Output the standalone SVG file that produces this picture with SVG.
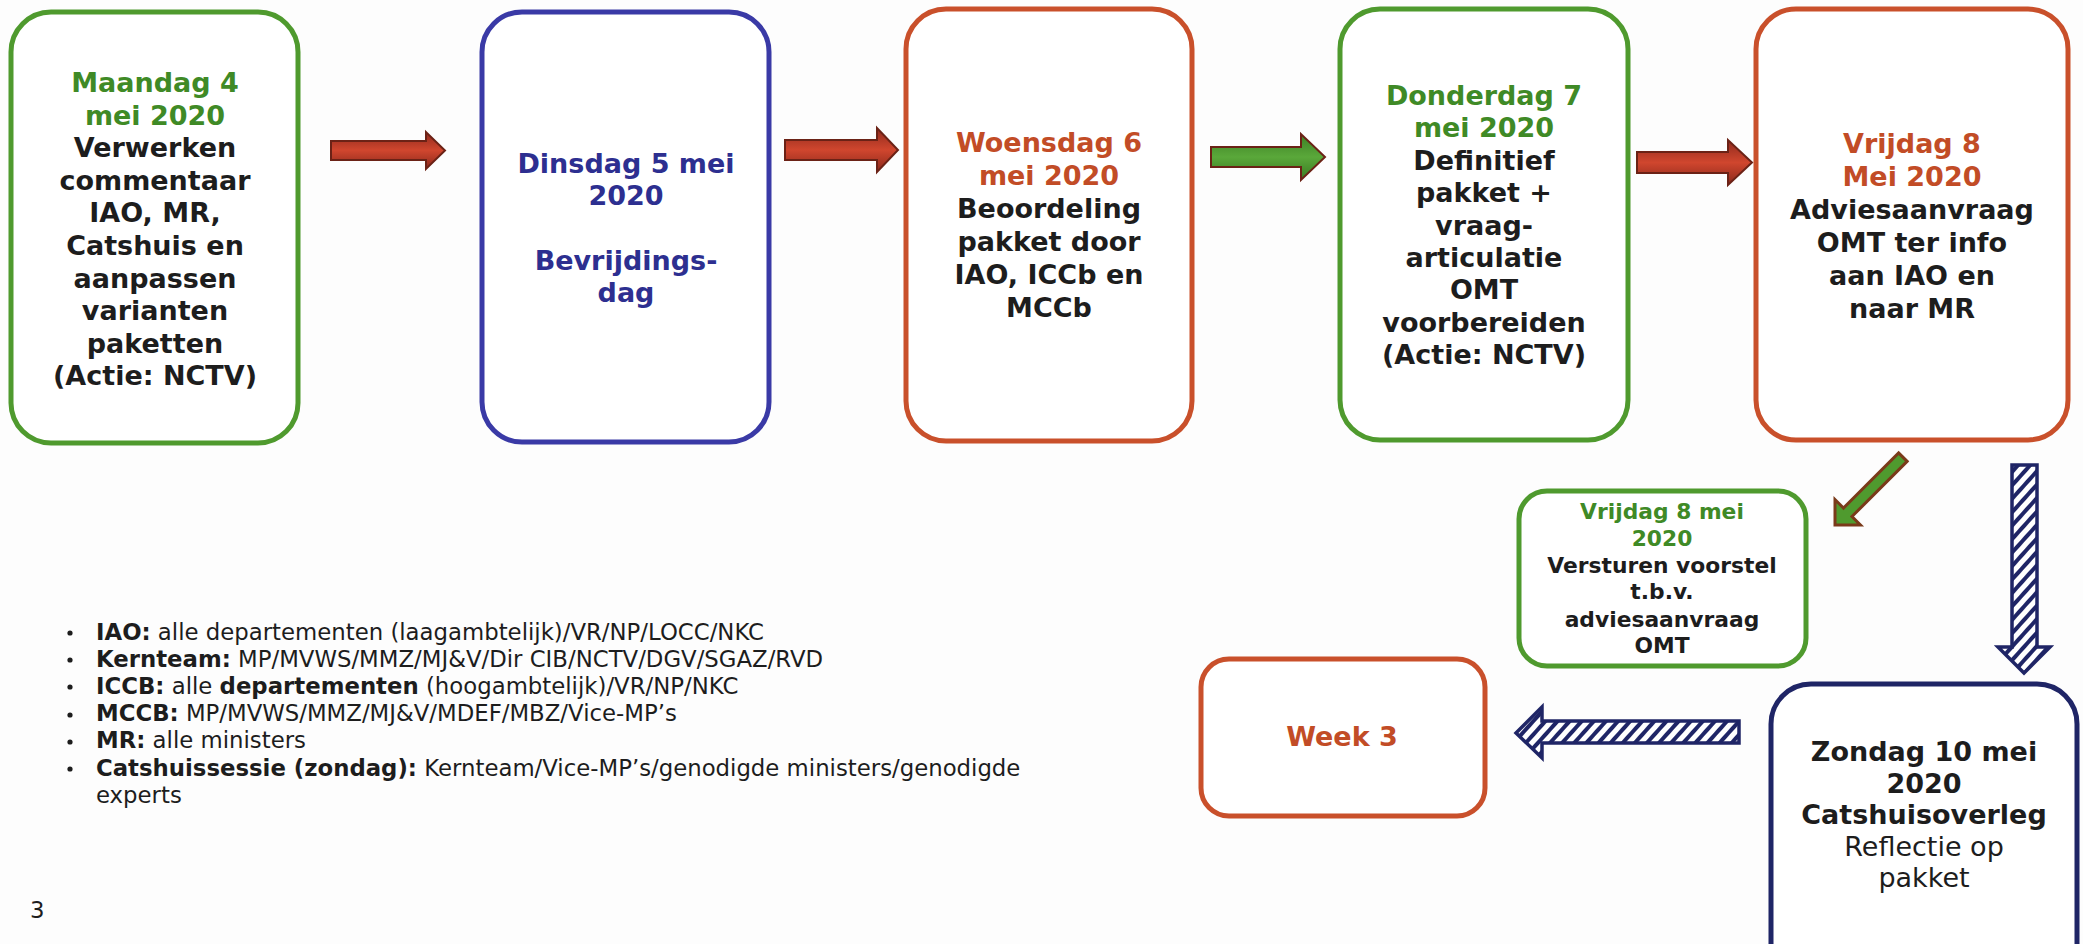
<svg xmlns="http://www.w3.org/2000/svg" width="2083" height="944" viewBox="0 0 2083 944">
<style>
.bx{fill:#fff;stroke-width:5}
.g{stroke:#4f9a2e}
.b{stroke:#3a3aa6}
.o{stroke:#c9502b}
.n{stroke:#1f2566}
.t{font-family:"DejaVu Sans",Verdana,sans-serif;font-weight:bold;font-size:27px;text-anchor:middle;fill:#1d1d1d}
.ts{font-size:21.8px}
.tg{fill:#3f8a26}
.tb{fill:#2d2f90}
.to{fill:#c24c26}
.reg{font-weight:normal}
.lg{font-family:"DejaVu Sans",Verdana,sans-serif;font-size:22.8px;fill:#1d1d1d}
.lg tspan.bd{font-weight:bold}
.ra{fill:url(#redg);stroke:#6b2216;stroke-width:2}
.ga{fill:url(#greeng);stroke:#6b2216;stroke-width:2}
.ha{fill:url(#hatch);stroke:#1f2566;stroke-width:3.5;stroke-linejoin:miter}
</style>
<defs>
<linearGradient id="redg" x1="0" y1="0" x2="0" y2="1">
<stop offset="0" stop-color="#8e2a1d"/>
<stop offset="0.5" stop-color="#d0462e"/>
<stop offset="1" stop-color="#8a281b"/>
</linearGradient>
<linearGradient id="greeng" x1="0" y1="0" x2="0" y2="1">
<stop offset="0" stop-color="#3d7f25"/>
<stop offset="0.5" stop-color="#5aa83a"/>
<stop offset="1" stop-color="#3a7a22"/>
</linearGradient>
<pattern id="hatch" patternUnits="userSpaceOnUse" width="9" height="9" patternTransform="rotate(42)">
<rect width="9" height="9" fill="#fff"/>
<rect width="4" height="9" fill="#1f2566"/>
</pattern>
</defs>
<rect width="2083" height="944" fill="#fdfdfd"/>

<g id="node-maandag">
<rect class="bx g" x="11" y="12" width="287" height="431" rx="40"/>
<text class="t"><tspan class="tg" x="155" y="92">Maandag 4</tspan><tspan class="tg" x="155" y="124.6">mei 2020</tspan><tspan x="155" y="157.2">Verwerken</tspan><tspan x="155" y="189.8">commentaar</tspan><tspan x="155" y="222.4">IAO, MR,</tspan><tspan x="155" y="255">Catshuis en</tspan><tspan x="155" y="287.6">aanpassen</tspan><tspan x="155" y="320.2">varianten</tspan><tspan x="155" y="352.8">paketten</tspan><tspan x="155" y="385.4">(Actie: NCTV)</tspan></text>
</g>

<g id="node-dinsdag">
<rect class="bx b" x="482" y="12" width="287" height="430" rx="40"/>
<text class="t tb"><tspan x="626" y="173">Dinsdag 5 mei</tspan><tspan x="626" y="205">2020</tspan><tspan x="626" y="270">Bevrijdings-</tspan><tspan x="626" y="302">dag</tspan></text>
</g>

<g id="node-woensdag">
<rect class="bx o" x="906" y="9" width="286" height="432" rx="40"/>
<text class="t"><tspan class="to" x="1049" y="152">Woensdag 6</tspan><tspan class="to" x="1049" y="185">mei 2020</tspan><tspan x="1049" y="218">Beoordeling</tspan><tspan x="1049" y="251">pakket door</tspan><tspan x="1049" y="284">IAO, ICCb en</tspan><tspan x="1049" y="317">MCCb</tspan></text>
</g>

<g id="node-donderdag">
<rect class="bx g" x="1340" y="9" width="288" height="431" rx="40"/>
<text class="t"><tspan class="tg" x="1484" y="105">Donderdag 7</tspan><tspan class="tg" x="1484" y="137.4">mei 2020</tspan><tspan x="1484" y="169.8">Definitief</tspan><tspan x="1484" y="202.2">pakket +</tspan><tspan x="1484" y="234.6">vraag-</tspan><tspan x="1484" y="267">articulatie</tspan><tspan x="1484" y="299.4">OMT</tspan><tspan x="1484" y="331.8">voorbereiden</tspan><tspan x="1484" y="364.2">(Actie: NCTV)</tspan></text>
</g>

<g id="node-vrijdag">
<rect class="bx o" x="1756" y="9" width="312" height="431" rx="40"/>
<text class="t"><tspan class="to" x="1912" y="153">Vrijdag 8</tspan><tspan class="to" x="1912" y="186">Mei 2020</tspan><tspan x="1912" y="219">Adviesaanvraag</tspan><tspan x="1912" y="252">OMT ter info</tspan><tspan x="1912" y="285">aan IAO en</tspan><tspan x="1912" y="318">naar MR</tspan></text>
</g>

<g id="node-versturen">
<rect class="bx g" x="1519" y="491" width="287" height="175" rx="28"/>
<text class="t ts"><tspan class="tg" x="1662" y="519">Vrijdag 8 mei</tspan><tspan class="tg" x="1662" y="546">2020</tspan><tspan x="1662" y="572.5">Versturen voorstel</tspan><tspan x="1662" y="599">t.b.v.</tspan><tspan x="1662" y="627">adviesaanvraag</tspan><tspan x="1662" y="653">OMT</tspan></text>
</g>

<g id="node-week3">
<rect class="bx o" x="1201" y="659" width="284" height="157" rx="28"/>
<text class="t to" x="1342" y="746">Week 3</text>
</g>

<g id="node-zondag">
<rect class="bx n" x="1771" y="684" width="306" height="300" rx="40"/>
<text class="t"><tspan x="1924" y="761">Zondag 10 mei</tspan><tspan x="1924" y="793">2020</tspan><tspan x="1924" y="824">Catshuisoverleg</tspan><tspan class="reg" x="1924" y="856">Reflectie op</tspan><tspan class="reg" x="1924" y="887">pakket</tspan></text>
</g>

<g id="connectors">
<path class="ra" d="M331,141 H426 V132 L445,150.5 L426,169 V160 H331 Z"/>
<path class="ra" d="M785,140 H877 V128 L898,150 L877,172 V160 H785 Z"/>
<path class="ga" d="M1211,147 H1301 V134 L1325,157 L1301,180 V167 H1211 Z"/>
<path class="ra" d="M1637,152 H1728 V140 L1752,162.5 L1728,185 V173 H1637 Z"/>
<g transform="translate(1835,525) rotate(135)">
<path d="M-96,-6 H-18 V-18 L0,0 L-18,18 V6 H-96 Z" fill="#4f9a2e" stroke="#7a3a1a" stroke-width="3"/>
</g>
<path class="ha" d="M2012,465 H2037 V647 H2050 L2024,673 L1998,647 H2012 Z"/>
<path class="ha" d="M1739,721 V743 H1542 V758 L1516,733 L1542,707 V721 Z"/>
</g>

<g id="legend">
<g fill="#1d1d1d"><circle cx="70" cy="633" r="2.6"/><circle cx="70" cy="660" r="2.6"/><circle cx="70" cy="687" r="2.6"/><circle cx="70" cy="715" r="2.6"/><circle cx="70" cy="742" r="2.6"/><circle cx="70" cy="769" r="2.6"/></g>
<text class="lg" x="96" y="640"><tspan class="bd">IAO:</tspan> alle departementen (laagambtelijk)/VR/NP/LOCC/NKC</text>
<text class="lg" x="96" y="667"><tspan class="bd">Kernteam:</tspan> MP/MVWS/MMZ/MJ&amp;V/Dir CIB/NCTV/DGV/SGAZ/RVD</text>
<text class="lg" x="96" y="694"><tspan class="bd">ICCB:</tspan> alle <tspan class="bd">departementen</tspan> (hoogambtelijk)/VR/NP/NKC</text>
<text class="lg" x="96" y="721"><tspan class="bd">MCCB:</tspan> MP/MVWS/MMZ/MJ&amp;V/MDEF/MBZ/Vice-MP’s</text>
<text class="lg" x="96" y="748"><tspan class="bd">MR:</tspan> alle ministers</text>
<text class="lg" x="96" y="776"><tspan class="bd">Catshuissessie (zondag):</tspan> Kernteam/Vice-MP’s/genodigde ministers/genodigde</text>
<text class="lg" x="96" y="803">experts</text>
<text class="lg" x="30" y="918" font-size="21">3</text>
</g>
</svg>
